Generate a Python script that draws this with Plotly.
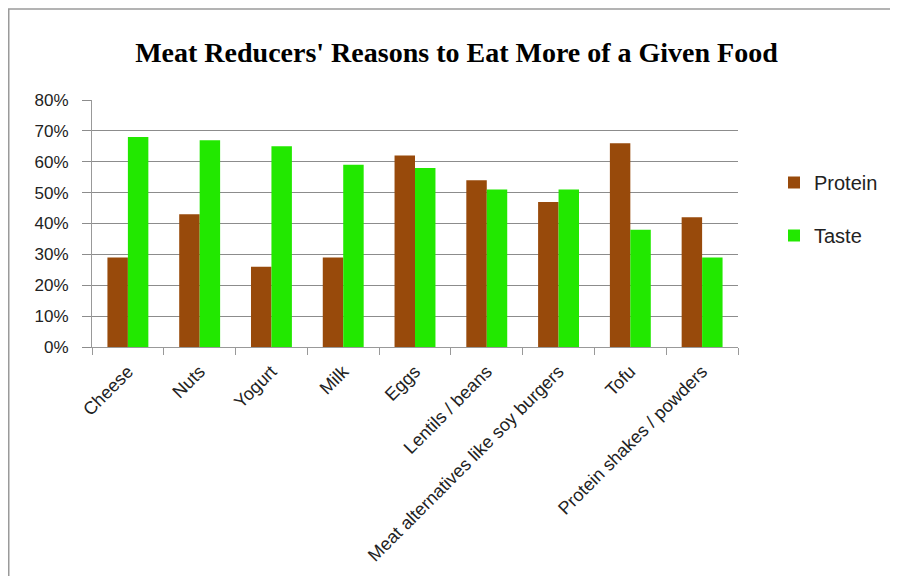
import plotly.graph_objects as go

categories = ["Cheese", "Nuts", "Yogurt", "Milk", "Eggs", "Lentils / beans",
              "Meat alternatives like soy burgers", "Tofu", "Protein shakes / powders"]
protein = [0.29, 0.43, 0.26, 0.29, 0.62, 0.54, 0.47, 0.66, 0.42]
taste = [0.68, 0.67, 0.65, 0.59, 0.58, 0.51, 0.51, 0.38, 0.29]
y_ticks = [0, 0.1, 0.2, 0.3, 0.4, 0.5, 0.6, 0.7, 0.8]

BROWN = "#984A0B"
GREEN = "#22E800"

fig = go.Figure()
fig.add_trace(go.Bar(x=categories, y=protein, name="Protein", legendgroup="p",
                     marker=dict(color=BROWN, line=dict(width=0))))
fig.add_trace(go.Bar(x=categories, y=taste, name="Taste", legendgroup="t",
                     marker=dict(color=GREEN, line=dict(width=0))))

# page is offset by the 8px body margin
W, H = 890, 568
L, R, T, B = 84, 160, 92, 229
pw, ph = W - L - R, H - T - B

fig.update_layout(
    width=W, height=H,
    margin=dict(l=L, r=R, t=T, b=B),
    paper_bgcolor="white", plot_bgcolor="white",
    bargap=0.43, bargroupgap=0,
    title=dict(text="<b>Meat Reducers' Reasons to Eat More of a Given Food</b>",
               x=448.5 / W, xanchor="center", y=1 - 44 / H, yanchor="middle",
               font=dict(family="Liberation Serif", size=28, color="black")),
    font=dict(family="Liberation Sans", color="#222"),
    legend=dict(x=(766 - L) / pw, xanchor="left", y=1 - (155 - T) / ph, yanchor="top",
                font=dict(size=20, color="#222"), tracegroupgap=24,
                bgcolor="rgba(0,0,0,0)"),
    xaxis=dict(showgrid=False, showline=True, linecolor="#999", linewidth=1,
               ticks="outside", tickson="boundaries", ticklen=7, tickcolor="#999",
               tickangle=-45, ticklabelstandoff=6,
               tickfont=dict(size=18, color="#222")),
    yaxis=dict(range=[0, 0.8], tickvals=y_ticks, tickformat=".0%",
               showgrid=True, gridcolor="#8c8c8c", gridwidth=1,
               showline=True, linecolor="#999", linewidth=1,
               ticks="outside", ticklen=9, tickcolor="#8c8c8c",
               ticklabelstandoff=10,
               tickfont=dict(size=17, color="#222"), zeroline=False),
    shapes=[dict(type="rect", xref="paper", yref="paper",
                 x0=(0.75 - L) / pw, x1=(885 - L) / pw,
                 y0=-(H + 20 - T - ph) / ph, y1=1 + (T - 1) / ph,
                 line=dict(color="#9a9a9a", width=1.5), fillcolor="rgba(0,0,0,0)",
                 layer="below")],
)

fig.write_html("out.html")
